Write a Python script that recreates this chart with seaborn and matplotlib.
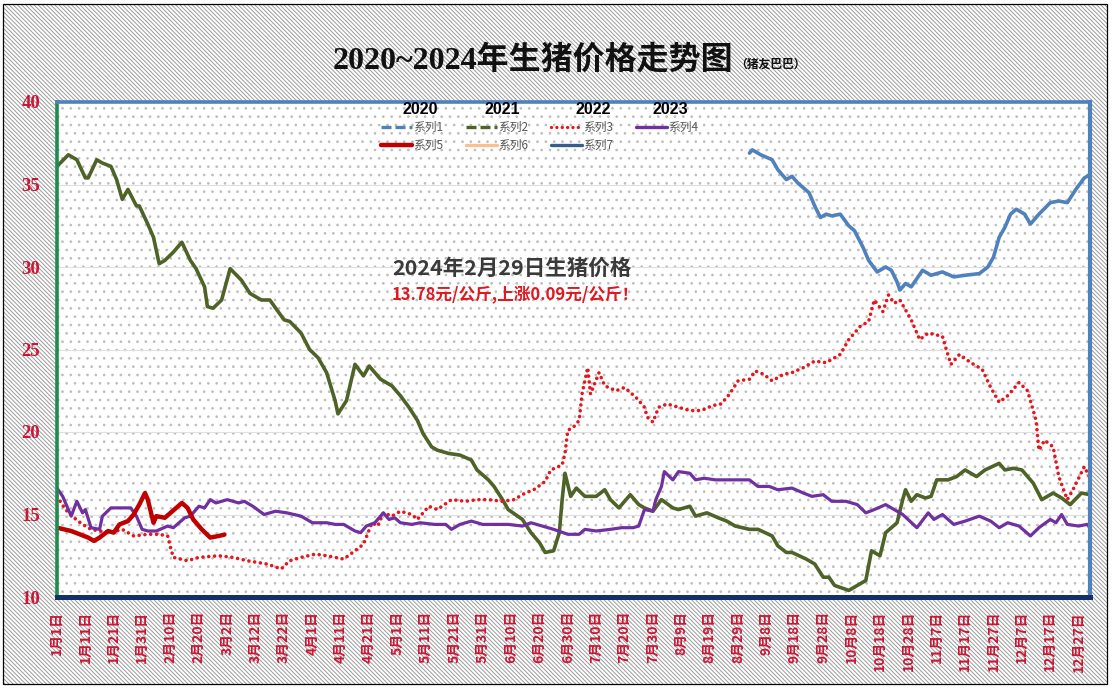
import matplotlib
matplotlib.use("Agg")
import matplotlib.pyplot as plt
from matplotlib.patches import Rectangle
from matplotlib.lines import Line2D
import seaborn as sns

W, H = 1112, 692

# category axis: one label every 10 days (365-day calendar)
date_labels = [
    "1月1日", "1月11日", "1月21日", "1月31日", "2月10日", "2月20日", "3月2日",
    "3月12日", "3月22日", "4月1日", "4月11日", "4月21日", "5月1日", "5月11日",
    "5月21日", "5月31日", "6月10日", "6月20日", "6月30日", "7月10日", "7月20日",
    "7月30日", "8月9日", "8月19日", "8月29日", "9月8日", "9月18日", "9月28日",
    "10月8日", "10月18日", "10月28日", "11月7日", "11月17日", "11月27日",
    "12月7日", "12月17日", "12月27日",
]
tick_days = [10 * i for i in range(len(date_labels))]
y_ticks = [10, 15, 20, 25, 30, 35, 40]

# 系列1 (2020, data from late August)
days_2020 = [244, 245, 248, 252, 254, 257, 259, 261, 265, 267, 269, 271, 273, 276,
             279, 281, 284, 286, 289, 292, 294, 296, 297, 299, 301, 305, 308, 312,
             316, 320, 325, 328, 330, 332, 334, 336, 338, 341, 343, 346, 350, 353,
             356, 359, 362, 364]
price_2020 = [36.9, 37.1, 36.8, 36.5, 35.9, 35.3, 35.5, 35.1, 34.5, 33.7, 33.0, 33.2,
              33.1, 33.2, 32.5, 32.2, 31.2, 30.4, 29.7, 30.0, 29.8, 29.1, 28.6, 29.0,
              28.8, 29.8, 29.5, 29.7, 29.4, 29.5, 29.6, 30.0, 30.6, 31.8, 32.4, 33.2,
              33.5, 33.2, 32.6, 33.2, 33.9, 34.0, 33.9, 34.7, 35.4, 35.6]

# 系列2 (2021)
days_2021 = [0, 4, 7, 10, 11, 14, 16, 19, 21, 23, 25, 28, 29, 32, 34, 36, 38, 41, 44,
             47, 49, 52, 53, 55, 58, 61, 65, 68, 72, 75, 80, 82, 86, 89, 92, 95, 98,
             99, 102, 105, 108, 110, 114, 118, 121, 124, 127, 129, 132, 134, 138, 142,
             146, 148, 152, 154, 157, 159, 164, 167, 170, 172, 175, 177, 178, 179, 181,
             183, 186, 190, 193, 195, 198, 202, 205, 207, 210, 213, 217, 219, 223, 225,
             229, 233, 236, 239, 244, 247, 252, 254, 257, 259, 264, 267, 270, 272, 274,
             279, 281, 285, 287, 290, 292, 296, 298, 299, 301, 303, 306, 308, 310, 314,
             317, 320, 324, 327, 332, 334, 337, 340, 344, 347, 351, 354, 357, 361, 364]
price_2021 = [36.1, 36.8, 36.5, 35.4, 35.4, 36.5, 36.3, 36.1, 35.3, 34.1, 34.7, 33.7,
              33.7, 32.6, 31.8, 30.2, 30.4, 30.9, 31.5, 30.4, 29.9, 28.8, 27.6, 27.5,
              28.0, 29.9, 29.2, 28.4, 28.0, 28.0, 26.8, 26.7, 26.0, 25.0, 24.5, 23.6,
              21.9, 21.1, 21.9, 24.1, 23.4, 24.0, 23.2, 22.8, 22.2, 21.5, 20.7, 19.9,
              19.1, 18.9, 18.7, 18.6, 18.3, 17.7, 17.1, 16.7, 15.9, 15.3, 14.7, 13.9,
              13.3, 12.7, 12.8, 13.9, 15.9, 17.5, 16.1, 16.6, 16.1, 16.1, 16.5, 15.9,
              15.4, 16.2, 15.6, 15.4, 15.2, 15.9, 15.4, 15.3, 15.5, 14.9, 15.1, 14.8,
              14.6, 14.3, 14.1, 14.1, 13.7, 13.1, 12.7, 12.7, 12.3, 12.0, 11.2, 11.2,
              10.7, 10.4, 10.6, 11.0, 12.8, 12.5, 13.9, 14.5, 15.9, 16.5, 15.8, 16.2,
              16.0, 16.1, 17.1, 17.1, 17.3, 17.7, 17.3, 17.7, 18.1, 17.7, 17.8, 17.7,
              16.9, 15.9, 16.3, 16.0, 15.6, 16.3, 16.2]

# 系列3 (2022)
days_2022 = [0, 3, 6, 9, 12, 15, 19, 23, 27, 32, 36, 39, 40, 41, 46, 50, 57, 62, 67,
             74, 79, 82, 86, 91, 95, 98, 101, 105, 108, 111, 113, 115, 118, 121, 125,
             127, 131, 134, 139, 144, 148, 152, 157, 161, 165, 168, 172, 174, 178, 179,
             180, 182, 184, 185, 187, 188, 191, 193, 197, 200, 204, 207, 208, 210, 212,
             215, 219, 223, 227, 231, 234, 237, 240, 244, 246, 249, 252, 256, 259, 263,
             267, 271, 276, 279, 283, 286, 288, 291, 293, 295, 297, 301, 304, 307, 312,
             313, 315, 318, 322, 326, 329, 332, 335, 339, 342, 345, 346, 348, 351, 353,
             356, 358, 362, 364]
price_2022 = [16.1, 15.3, 14.8, 14.4, 14.1, 14.0, 13.9, 14.1, 13.7, 13.8, 13.8, 13.7,
              13.0, 12.4, 12.2, 12.4, 12.5, 12.4, 12.2, 12.0, 11.7, 12.2, 12.4, 12.6,
              12.5, 12.4, 12.3, 12.8, 13.2, 14.5, 14.3, 15.1, 14.9, 15.2, 15.0, 14.7,
              15.5, 15.3, 15.9, 15.8, 15.9, 15.9, 15.8, 15.9, 16.3, 16.5, 17.0, 17.7,
              18.0, 18.7, 20.1, 20.3, 20.7, 22.3, 23.9, 22.3, 23.6, 22.8, 22.5, 22.7,
              22.1, 21.5, 20.9, 20.6, 21.5, 21.7, 21.5, 21.3, 21.3, 21.6, 21.7, 22.3,
              23.1, 23.2, 23.7, 23.5, 23.1, 23.5, 23.6, 23.9, 24.3, 24.2, 24.7, 25.6,
              26.4, 26.7, 28.0, 27.3, 28.3, 27.8, 28.0, 26.8, 25.6, 26.0, 25.8, 25.2,
              24.1, 24.7, 24.2, 23.8, 22.7, 21.8, 22.2, 23.0, 22.5, 20.7, 18.9, 19.5,
              19.1, 17.3, 15.9, 16.5, 17.9, 17.2]

# 系列4 (2023)
days_2023 = [0, 2, 5, 7, 9, 10, 12, 15, 16, 19, 22, 26, 28, 30, 32, 35, 39, 41, 45,
             47, 50, 52, 54, 56, 60, 64, 66, 69, 73, 77, 81, 86, 90, 95, 98, 101, 105,
             107, 109, 112, 115, 117, 119, 121, 125, 128, 133, 137, 139, 142, 146, 150,
             154, 159, 164, 167, 171, 175, 180, 184, 186, 190, 195, 199, 203, 205, 207,
             210, 211, 213, 214, 217, 219, 223, 225, 228, 232, 236, 240, 244, 247, 251,
             254, 259, 263, 266, 270, 273, 278, 282, 285, 288, 292, 296, 298, 303, 307,
             309, 312, 316, 320, 325, 329, 332, 335, 339, 343, 346, 350, 352, 354, 356,
             360, 363, 364]
price_2023 = [16.6, 16.1, 14.9, 15.8, 15.1, 15.3, 14.2, 14.1, 14.9, 15.4, 15.4, 15.4,
              14.9, 14.1, 14.0, 14.0, 14.3, 14.2, 14.8, 14.9, 15.5, 15.4, 15.9, 15.7,
              15.9, 15.7, 15.8, 15.5, 15.0, 15.2, 15.1, 14.9, 14.5, 14.5, 14.4, 14.4,
              14.0, 13.9, 14.3, 14.5, 15.1, 14.7, 14.8, 14.5, 14.4, 14.5, 14.4, 14.4,
              14.1, 14.4, 14.6, 14.4, 14.4, 14.4, 14.3, 14.5, 14.3, 14.1, 13.8, 13.8,
              14.1, 14.0, 14.1, 14.2, 14.2, 14.3, 15.3, 15.2, 15.9, 16.7, 17.6, 17.1,
              17.6, 17.5, 17.1, 17.2, 17.1, 17.1, 17.1, 17.1, 16.7, 16.7, 16.5, 16.6,
              16.3, 16.1, 16.2, 15.8, 15.8, 15.6, 15.1, 15.3, 15.6, 15.2, 15.0, 14.2,
              15.1, 14.7, 15.0, 14.4, 14.6, 14.9, 14.6, 14.2, 14.5, 14.3, 13.7, 14.2,
              14.7, 14.5, 15.0, 14.4, 14.3, 14.4, 14.2]

# 系列5 (2024, up to 2月29日)
days_2024 = [0, 5, 8, 11, 13, 15, 18, 20, 22, 25, 27, 29, 31, 32, 34, 35, 38, 40, 44,
             46, 48, 51, 54, 57, 59]
price_2024 = [14.2, 14.0, 13.8, 13.6, 13.4, 13.6, 14.0, 13.9, 14.4, 14.6, 15.0, 15.6,
              16.3, 15.9, 14.5, 14.9, 14.8, 15.1, 15.7, 15.4, 14.7, 14.1, 13.6, 13.7,
              13.78]

legend_labels = ["系列1", "系列2", "系列3", "系列4", "系列5", "系列6", "系列7"]
year_headers = ["2020", "2021", "2022", "2023"]

c_blue, c_green, c_red = "#4f81bd", "#4f6228", "#e8141c"
c_purple, c_dark_red, c_peach, c_navy = "#7030a0", "#c00000", "#fac090", "#385d8a"
tick_red = "#cc1533"

sns.set_style("white")
plt.rcParams["font.family"] = ["Noto Sans CJK SC", "DejaVu Sans"]
plt.rcParams["hatch.linewidth"] = 0.7


def fx(px):
    return px / W


def fy(py):
    return 1 - py / H


fig = plt.figure(figsize=(W / 100, H / 100), dpi=100)
fig.patch.set_facecolor("white")

# striped chart area with thin black frame
fig.add_artist(Rectangle((fx(3), fy(684)), fx(1104), (684 - 4) / H,
                         transform=fig.transFigure, facecolor="white",
                         edgecolor="#9a9a9a", hatch=r"\\\\\\\\", lw=0, zorder=-2))
fig.add_artist(Rectangle((fx(3), fy(684)), fx(1104), (684 - 4) / H,
                         transform=fig.transFigure, fill=False,
                         edgecolor="black", lw=0.9, zorder=-1))

ax = fig.add_axes([fx(57), fy(597), fx(1090 - 57), (597 - 102) / H])
ax.set_facecolor("white")
ax.add_patch(Rectangle((0, 0), 1, 1, transform=ax.transAxes, facecolor="white",
                       edgecolor="#bdbdbd", hatch="..", lw=0, zorder=0))
ax.set_axisbelow(True)
ax.yaxis.grid(True, color="#e0e0e0", lw=0.8)
ax.xaxis.grid(False)

sns.lineplot(x=days_2020, y=price_2020, ax=ax, color=c_blue, lw=2.6, estimator=None, legend=False)
sns.lineplot(x=days_2021, y=price_2021, ax=ax, color=c_green, lw=2.6, estimator=None, legend=False)
sns.lineplot(x=days_2022, y=price_2022, ax=ax, color=c_red, lw=2.6, estimator=None, legend=False)
red_line = ax.lines[-1]
red_line.set_dashes([0.01, 1.6])
red_line.set_dash_capstyle("round")
sns.lineplot(x=days_2023, y=price_2023, ax=ax, color=c_purple, lw=2.3, estimator=None, legend=False)
sns.lineplot(x=days_2024, y=price_2024, ax=ax, color=c_dark_red, lw=3.2, estimator=None, legend=False)
for line in ax.lines:
    line.set_solid_joinstyle("round")

ax.set_xlim(0, 364)
ax.set_ylim(10, 40)
ax.set_xlabel("")
ax.set_ylabel("")
ax.set_xticks(tick_days)
ax.set_xticklabels(date_labels, rotation=90, color=tick_red, fontweight="bold", fontsize=10)
ax.set_yticks(y_ticks)
ax.set_yticklabels([str(v) for v in y_ticks], color=tick_red, fontweight="bold",
                   fontsize=13.5, family=["Liberation Serif", "DejaVu Serif"])
ax.tick_params(axis="x", length=0, pad=10)
ax.tick_params(axis="y", length=0, pad=12)

for side, col, w in [("left", "#1e8c4e", 2.6), ("bottom", "#14306b", 3.6),
                     ("top", c_blue, 2.6), ("right", c_blue, 3.0)]:
    ax.spines[side].set_visible(True)
    ax.spines[side].set_color(col)
    ax.spines[side].set_linewidth(w)

# legend (Excel style, row-major)
handles = [
    Line2D([], [], color=c_blue, lw=2.4, dashes=(3, 1.2)),
    Line2D([], [], color=c_green, lw=2.4, dashes=(3, 1.2)),
    Line2D([], [], color=c_red, lw=2.4, dashes=(0.01, 1.6), dash_capstyle="round"),
    Line2D([], [], color=c_purple, lw=2.4),
    Line2D([], [], color=c_dark_red, lw=3.2),
    Line2D([], [], color=c_peach, lw=2.4),
    Line2D([], [], color=c_navy, lw=2.4),
]
order = [0, 4, 1, 5, 2, 6, 3]
leg = fig.legend([handles[i] for i in order], [legend_labels[i] for i in order],
                 ncol=4, loc="upper left", bbox_to_anchor=(fx(381), fy(121)),
                 frameon=False, fontsize=8.5, handlelength=2.6, handletextpad=0.15,
                 columnspacing=1.9, labelspacing=0.45, borderpad=0, borderaxespad=0)
for t in leg.get_texts():
    t.set_color("#595959")

for label, px in zip(year_headers, [420, 502, 593, 670]):
    fig.text(fx(px), fy(110), label, ha="center", va="center", fontsize=11.5,
             fontweight="bold", color="black", family=["Liberation Sans", "DejaVu Sans"])

# title
fig.text(fx(733), fy(60), "2020~2024年生猪价格走势图", ha="right", va="center",
         fontsize=23, fontweight="bold", color="#111111",
         family=["Liberation Serif", "Noto Sans CJK SC", "DejaVu Sans"])
fig.text(fx(735), fy(64), "（猪友巴巴）", ha="left", va="center", fontsize=8.5,
         fontweight="bold", color="#111111")

# annotation
fig.text(fx(392), fy(268), "2024年2月29日生猪价格", ha="left", va="center",
         fontsize=15.5, fontweight="bold", color="#3a3a3a")
fig.text(fx(392), fy(294), "13.78元/公斤,上涨0.09元/公斤！", ha="left", va="center",
         fontsize=12, fontweight="bold", color="#e0181f")

fig.savefig("out.png", dpi=100, facecolor=fig.get_facecolor())
